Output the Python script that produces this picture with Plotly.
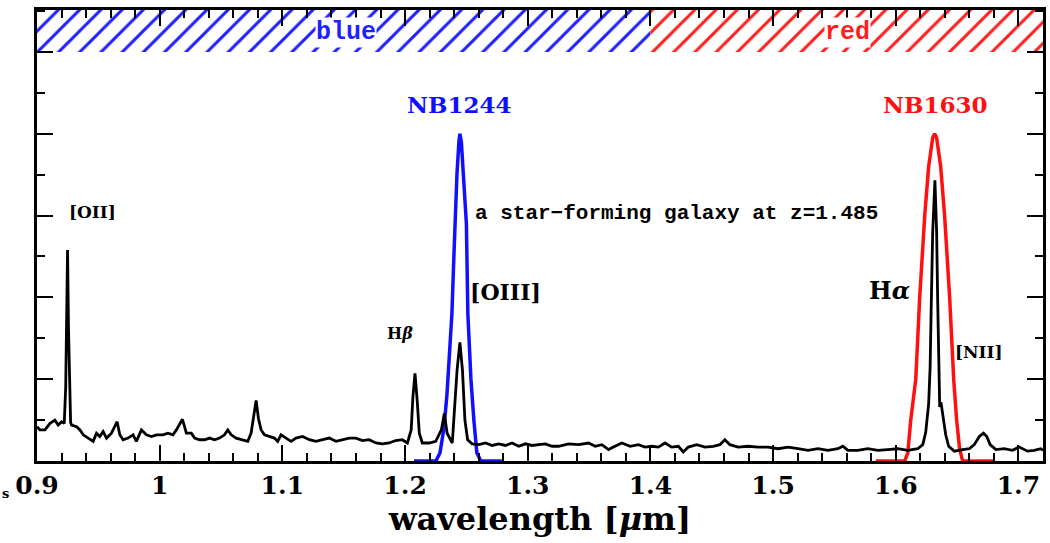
import plotly.graph_objects as go

# ---------------- data ----------------
wavelength = [
    0.9000, 0.9024, 0.9065, 0.9106, 0.9146, 0.9173, 0.9201, 0.9222, 0.9234, 0.9241,
    0.9249, 0.9257, 0.9265, 0.9274, 0.9282, 0.9323, 0.9350, 0.9377, 0.9417, 0.9458,
    0.9485, 0.9512, 0.9539, 0.9567, 0.9607, 0.9634, 0.9653, 0.9675, 0.9702, 0.9742,
    0.9783, 0.9810, 0.9851, 0.9892, 0.9933, 0.9973, 1.0027, 1.0067, 1.0108, 1.0136,
    1.0163, 1.0185, 1.0203, 1.0217, 1.0258, 1.0285, 1.0325, 1.0366, 1.0407, 1.0447,
    1.0488, 1.0528, 1.0555, 1.0583, 1.0623, 1.0677, 1.0718, 1.0745, 1.0764, 1.0786,
    1.0805, 1.0827, 1.0854, 1.0894, 1.0935, 1.0962, 1.0989, 1.1030, 1.1071, 1.1111,
    1.1165, 1.1220, 1.1274, 1.1328, 1.1382, 1.1437, 1.1490, 1.1545, 1.1599, 1.1653,
    1.1707, 1.1762, 1.1815, 1.1870, 1.1924, 1.1978, 1.2019, 1.2050, 1.2064, 1.2081,
    1.2099, 1.2116, 1.2141, 1.2195, 1.2250, 1.2296, 1.2320, 1.2343, 1.2385, 1.2408,
    1.2424, 1.2447, 1.2468, 1.2488, 1.2510, 1.2547, 1.2602, 1.2656, 1.2710, 1.2764,
    1.2819, 1.2872, 1.2927, 1.2981, 1.3035, 1.3089, 1.3144, 1.3198, 1.3252, 1.3333,
    1.3415, 1.3496, 1.3550, 1.3604, 1.3659, 1.3699, 1.3767, 1.3835, 1.3902, 1.3957,
    1.4011, 1.4065, 1.4119, 1.4173, 1.4228, 1.4268, 1.4309, 1.4377, 1.4445, 1.4512,
    1.4566, 1.4607, 1.4648, 1.4715, 1.4797, 1.4878, 1.4959, 1.5041, 1.5122, 1.5203,
    1.5285, 1.5366, 1.5447, 1.5528, 1.5569, 1.5610, 1.5691, 1.5772, 1.5854, 1.5935,
    1.6016, 1.6098, 1.6179, 1.6220, 1.6244, 1.6268, 1.6280, 1.6289, 1.6301, 1.6319,
    1.6333, 1.6341, 1.6350, 1.6358, 1.6368, 1.6382, 1.6407, 1.6431, 1.6477, 1.6545,
    1.6599, 1.6640, 1.6681, 1.6715, 1.6742, 1.6769, 1.6816, 1.6884, 1.6951, 1.7006,
    1.7073, 1.7128, 1.7182, 1.7200,
]
flux = [
    0.42, 0.38, 0.38, 0.46, 0.50, 0.44, 0.48, 0.46, 0.90, 1.60,
    2.58, 1.60, 0.80, 0.47, 0.44, 0.42, 0.38, 0.32, 0.28, 0.24,
    0.34, 0.30, 0.36, 0.28, 0.34, 0.42, 0.48, 0.32, 0.26, 0.28,
    0.32, 0.24, 0.38, 0.32, 0.30, 0.32, 0.32, 0.34, 0.32, 0.38,
    0.46, 0.51, 0.42, 0.34, 0.34, 0.28, 0.26, 0.26, 0.28, 0.26,
    0.28, 0.32, 0.38, 0.32, 0.28, 0.26, 0.24, 0.34, 0.54, 0.74,
    0.52, 0.38, 0.32, 0.30, 0.28, 0.24, 0.32, 0.28, 0.24, 0.28,
    0.30, 0.26, 0.24, 0.26, 0.28, 0.24, 0.26, 0.28, 0.28, 0.25,
    0.26, 0.22, 0.21, 0.22, 0.25, 0.26, 0.22, 0.38, 0.78, 1.07,
    0.74, 0.34, 0.22, 0.22, 0.24, 0.38, 0.58, 0.34, 0.22, 0.70,
    1.11, 1.45, 1.11, 0.50, 0.26, 0.21, 0.20, 0.22, 0.19, 0.21,
    0.19, 0.22, 0.18, 0.21, 0.19, 0.20, 0.21, 0.18, 0.18, 0.21,
    0.20, 0.22, 0.18, 0.20, 0.14, 0.17, 0.22, 0.18, 0.20, 0.17,
    0.18, 0.17, 0.22, 0.17, 0.18, 0.11, 0.17, 0.20, 0.17, 0.18,
    0.20, 0.26, 0.20, 0.17, 0.18, 0.17, 0.17, 0.15, 0.17, 0.15,
    0.13, 0.15, 0.13, 0.15, 0.18, 0.13, 0.13, 0.15, 0.13, 0.14,
    0.15, 0.13, 0.15, 0.20, 0.35, 0.70, 1.15, 1.90, 2.80, 3.43,
    2.80, 2.00, 1.00, 0.66, 0.72, 0.55, 0.32, 0.18, 0.12, 0.14,
    0.15, 0.20, 0.30, 0.34, 0.30, 0.20, 0.14, 0.15, 0.13, 0.17,
    0.12, 0.13, 0.15, 0.13,
]

nb1244_wl = [1.2073, 1.2252, 1.2285, 1.2317, 1.2341, 1.2358, 1.2382, 1.2398, 1.2407,
             1.2423, 1.2439, 1.2447, 1.2459, 1.2480, 1.2500, 1.2512, 1.2537, 1.2561,
             1.2585, 1.2618, 1.2789]
nb1244_tr = [0.0, 0.0, 0.1, 0.4, 0.8, 1.3, 1.8, 2.5, 2.9,
             3.5, 3.9, 4.0, 3.9, 3.4, 2.9, 1.8, 1.0, 0.5,
             0.1, 0.0, 0.0]

nb1630_wl = [1.5837, 1.6073, 1.6098, 1.6122, 1.6163, 1.6195, 1.6236, 1.6268, 1.6301,
             1.6317, 1.6333, 1.6366, 1.6398, 1.6439, 1.6472, 1.6496, 1.6520, 1.6545,
             1.6805]
nb1630_tr = [0.0, 0.0, 0.1, 0.5, 1.0, 2.0, 3.0, 3.6, 3.95,
             4.0, 3.95, 3.6, 3.0, 2.0, 1.0, 0.5, 0.15, 0.0,
             0.0]

band_names = ["blue", "red"]
band_lo = [0.90, 1.40]
band_hi = [1.40, 1.72]
band_colors = ["#1f1fff", "#ff1f1f"]

X_RANGE = [0.9, 1.72]
Y_TOP = 5.513
BAND_BOTTOM = 5.0

SERIF = "DejaVu Serif"
MONO = "Liberation Mono"

fig = go.Figure()

# hatched bands along the top
for name, lo, hi, col in zip(band_names, band_lo, band_hi, band_colors):
    fig.add_trace(go.Scatter(
        x=[lo, hi, hi, lo, lo], y=[BAND_BOTTOM, BAND_BOTTOM, Y_TOP, Y_TOP, BAND_BOTTOM],
        mode="lines", line=dict(width=0, color=col), fill="toself",
        fillcolor="white",
        fillpattern=dict(shape="/", fgcolor=col, bgcolor="white", size=15,
                         solidity=0.2, fillmode="replace"),
        hoverinfo="skip", showlegend=False,
    ))

# filter curves
fig.add_trace(go.Scatter(x=nb1244_wl, y=nb1244_tr, mode="lines",
                         line=dict(color="#1010ff", width=3.5), showlegend=False))
fig.add_trace(go.Scatter(x=nb1630_wl, y=nb1630_tr, mode="lines",
                         line=dict(color="#ff1010", width=3.5), showlegend=False))

# spectrum
fig.add_trace(go.Scatter(x=wavelength, y=flux, mode="lines",
                         line=dict(color="black", width=2.8), showlegend=False))

def ann(text, x, y, size, color="black", family=SERIF, weight="normal", **kw):
    fig.add_annotation(x=x, y=y, xref="x", yref="y", text=text, showarrow=False,
                       font=dict(family=family, size=size, color=color, weight=weight),
                       xanchor="center", yanchor="middle", **kw)

ann("blue", 1.152, 5.24, 25, color="#1f1fff", family=MONO, weight="bold",
    bgcolor="white", borderpad=0)
ann("red", 1.561, 5.24, 25, color="#ff1f1f", family=MONO, weight="bold",
    bgcolor="white", borderpad=0)
ann("NB1244", 1.2439, 4.36, 23, color="#1010ff", weight="bold")
ann("NB1630", 1.6317, 4.36, 23, color="#ff1010", weight="bold")
ann("[OII]", 0.9455, 3.04, 17, weight="bold")
ann("H<i>β</i>", 1.1959, 1.56, 16, weight="bold")
ann("[OIII]", 1.2815, 2.07, 22, weight="bold")
ann("H<i>α</i>", 1.5951, 2.08, 24, weight="bold")
ann("[NII]", 1.6675, 1.33, 17, weight="bold")
ann("a star\u2212forming galaxy at z=1.485", 1.4211, 3.03, 21, family=MONO,
    weight="bold")

# small fragment of text at the far left edge of the reference
fig.add_annotation(x=-0.0367, y=-0.072, xref="paper", yref="paper", text="s",
                   showarrow=False, xanchor="left", yanchor="middle",
                   font=dict(family=SERIF, size=13, color="black", weight="bold"))

axis_common = dict(
    showgrid=False, zeroline=False, showline=True, linecolor="black", linewidth=2.5,
    mirror="ticks", ticks="inside", ticklen=16, tickwidth=2, tickcolor="black",
)

fig.update_xaxes(
    range=X_RANGE, tickmode="linear", tick0=0.9, dtick=0.1,
    minor=dict(ticks="inside", ticklen=8, tickwidth=2, tickcolor="black",
               tick0=0.9, dtick=0.02, showgrid=False),
    tickfont=dict(family=SERIF, size=25, color="black", weight="bold"),
    title=dict(text="wavelength [<i>μ</i>m]", standoff=2,
               font=dict(family=SERIF, size=32, color="black", weight="bold")),
    **axis_common,
)
fig.update_yaxes(
    range=[0, Y_TOP], tickmode="linear", tick0=0, dtick=1, showticklabels=False,
    minor=dict(ticks="inside", ticklen=8, tickwidth=2, tickcolor="black",
               tick0=0, dtick=0.5, showgrid=False),
    **axis_common,
)

fig.update_layout(
    width=1050, height=543,
    margin=dict(l=37, r=4, t=10, b=82),
    plot_bgcolor="white", paper_bgcolor="white",
    showlegend=False,
)

fig.write_html("out.html")
